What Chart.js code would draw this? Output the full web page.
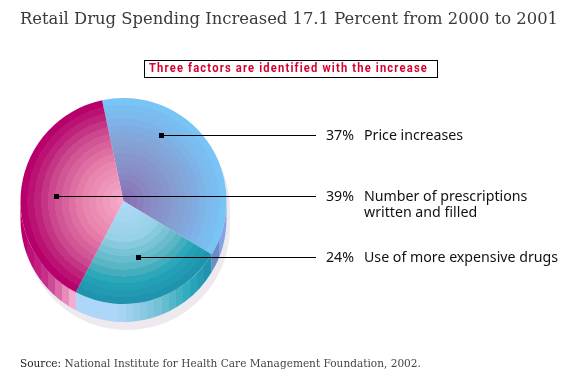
<!DOCTYPE html>
<html><head><meta charset="utf-8">
<style>html,body{margin:0;padding:0;background:#fff}canvas{display:block}</style>
<script src="https://cdn.jsdelivr.net/npm/chart.js@4"></script>
</head><body><canvas id="c" width="576" height="378"></canvas>
<script>
const categories = ["Price increases", "Use of more expensive drugs", "Number of prescriptions written and filled"];
const labelLines = [["Price increases"], ["Use of more expensive drugs"], ["Number of prescriptions", "written and filled"]];
const values = [37, 24, 39];
const titleText = "Retail Drug Spending Increased 17.1 Percent from 2000 to 2001";
const subtitleText = "Three factors are identified with the increase";
const sourceLabel = "Source:";
const sourceText = "National Institute for Health Care Management Foundation, 2002.";

const topRamps = [
  [[0,"#8a70b4"],[.25,"#8a8ac4"],[.6,"#84a4d8"],[.85,"#7cb8ec"],[1,"#78c4f6"]],
  [[0,"#aedaf8"],[.35,"#98d2e6"],[.65,"#58b4c4"],[.82,"#22a4b8"],[1,"#2094ae"]],
  [[0,"#f4aac8"],[.4,"#e880ac"],[.7,"#cc4c90"],[.88,"#bc1c78"],[1,"#b8006c"]]
];
const wallRamps = [
  [[0,"#6c8cc8"],[1,"#84a4e4"]],
  [[0,"#aed6f8"],[.3,"#aed6f8"],[.6,"#78c2d6"],[.85,"#2eaabc"],[1,"#2094ae"]],
  [[0,"#ba0070"],[.5,"#c8388c"],[1,"#f4acd0"]]
];
const hex = h => [1,3,5].map(i => parseInt(h.substr(i,2),16));
function rampAt(r, t){
  for(let i=1;i<r.length;i++){
    if(t<=r[i][0]){
      const a=r[i-1],b=r[i],k=(t-a[0])/(b[0]-a[0]),A=hex(a[1]),B=hex(b[1]);
      return `rgb(${A.map((v,j)=>Math.round(v+(B[j]-v)*k)).join(",")})`;
    }
  }
  return r[r.length-1][1];
}
function stepped(g, ramp, n){
  for(let i=0;i<n;i++){
    const c=rampAt(ramp,i/(n-1));
    g.addColorStop(i/n,c); g.addColorStop((i+1)/n,c);
  }
  return g;
}
function topFill(ctx){
  const a=ctx.chart.chartArea, ramp=topRamps[ctx.dataIndex];
  if(!a) return ramp[ramp.length-1][1];
  const x=(a.left+a.right)/2,y=(a.top+a.bottom)/2,r=Math.min(a.right-a.left,a.bottom-a.top)/2;
  return stepped(ctx.chart.ctx.createRadialGradient(x,y,0,x,y,r),ramp,15);
}

const depth=18;
const pieBase={id:"pieBase",beforeDatasetsDraw(chart){
  const c=chart.ctx,arcs=chart.getDatasetMeta(0).data,p=arcs[0];
  const x=p.x,y=p.y,r=p.outerRadius;
  c.save();
  c.fillStyle="#eee9ee";
  c.beginPath();c.arc(x+3.5,y+8,r,Math.PI,0,false);c.arc(x+3.5,y+26,r,0,Math.PI,false);c.closePath();c.fill();
  arcs.forEach((a,i)=>{
    const norm=t=>{t%=2*Math.PI;return t<0?t+2*Math.PI:t;};
    let s=norm(a.startAngle),e=s+(a.endAngle-a.startAngle);
    const spans=[[s,e],[s-2*Math.PI,e-2*Math.PI]];
    spans.forEach(([u,v])=>{
      const s0=Math.max(u,0),e0=Math.min(v,Math.PI);
      if(e0<=s0) return;
      const x0=x+r*Math.cos(e0),x1=x+r*Math.cos(s0);
      const g=stepped(c.createLinearGradient(x0,0,x1,0),wallRamps[i],Math.max(2,Math.round((x1-x0)/7)));
      c.fillStyle=g;
      c.beginPath();c.arc(x,y+depth,r,s0,e0,false);c.arc(x,y,r,e0,s0,true);c.closePath();c.fill();
    });
  });
  c.restore();
}};

const leaderFromCentre=[[37,-66],[14,56],[-68,-5]];
const leaderRowY=[135,257,196];
const annotations={id:"annotations",afterDatasetsDraw(chart){
  const c=chart.ctx,p=chart.getDatasetMeta(0).data[0];
  c.save();
  c.fillStyle="#000";c.strokeStyle="#000";c.lineWidth=1;
  c.textBaseline="middle";c.textAlign="left";
  // title
  c.fillStyle="#3a3a3a";
  c.font='16.4px "DejaVu Serif"';
  c.fillText(titleText,20,20,538);
  values.forEach((v,i)=>{
    const ax=Math.round(p.x+leaderFromCentre[i][0]),y=leaderRowY[i];
    c.fillStyle="#000";
    c.fillRect(ax-2,y-2,5,5);
    c.beginPath();c.moveTo(ax,y+.5);c.lineTo(316,y+.5);c.stroke();
    c.font='14.2px "Noto Sans"';
    c.fillStyle="#111";
    c.fillText(v+"%",326,y+1);
    labelLines[i].forEach((t,j)=>c.fillText(t,364,y+1+j*15.5));
  });
  // boxed subtitle
  c.strokeRect(144.5,60.5,293,17);
  c.save();
  c.fillStyle="#d8002c";
  c.font='bold 12.5px "Roboto"';
  c.letterSpacing="1.3px";
  c.textAlign="left";
  c.translate(149,69);
  const sw=c.measureText(subtitleText).width;
  c.scale(279/sw,1);
  c.fillText(subtitleText,0,0);
  c.restore();
  // source
  c.textAlign="left";
  c.fillStyle="#222";
  c.font='10.55px "DejaVu Serif"';
  c.fillText(sourceLabel,20,364);
  const w=c.measureText(sourceLabel+" ").width;
  c.fillStyle="#444";
  c.fillText(sourceText,20+w,364);
  c.restore();
}};

new Chart(document.getElementById("c"),{
  type:"pie",
  data:{labels:categories,datasets:[{data:values,backgroundColor:topFill,borderWidth:0}]},
  options:{
    responsive:false,animation:false,rotation:-12,
    layout:{padding:{left:20,right:349,bottom:74,top:98}},
    plugins:{legend:{display:false},tooltip:{enabled:false},title:{display:false}}
  },
  plugins:[pieBase,annotations]
});
</script></body></html>
